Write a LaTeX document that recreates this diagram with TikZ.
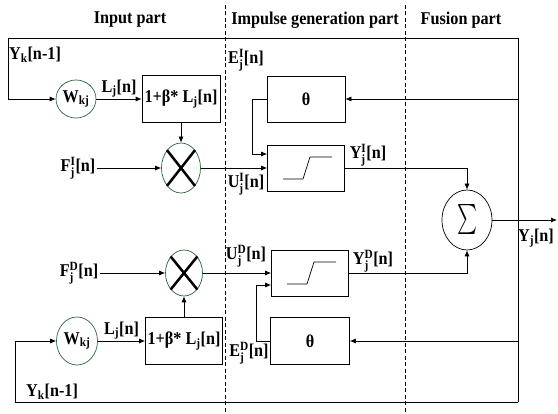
\documentclass[tikz,border=0pt]{standalone}
\usepackage{fontspec}
\setmainfont{Liberation Serif}[FakeStretch=0.9]
\usepackage{amsmath}
\usepackage{graphicx}
\usetikzlibrary{arrows.meta, positioning, shapes.geometric}

\definecolor{ringgreen}{RGB}{40,100,60}
\newcommand{\subtxt}[1]{\ensuremath{_{\text{#1}}}}
\newcommand{\subsuptxt}[2]{\ensuremath{_{\text{#1}}^{\text{#2}}}}
\newcommand{\stepramp}[1]{\draw ([shift={(-23,11)}]#1.center) -- ++(20,0) -- ++(7,-22) -- ++(22,0);}

\begin{document}
\begin{tikzpicture}[
    x=1pt, y=-1pt, >={Latex[length=6pt,width=5pt]}, line width=0.7pt,
    font=\fontsize{18}{20}\selectfont\bfseries,
    box/.style={draw, inner sep=0pt, minimum width=78pt, minimum height=47pt},
    ring/.style={draw=ringgreen, ellipse, inner sep=0pt},
    lbl/.style={inner sep=1pt},
    sep/.style={dash pattern=on 4pt off 2.5pt, line width=0.6pt}
  ]
  \useasboundingbox (0,0) rectangle (558,414);

  % parts
  \node (tin) at (130,20) {Input part};
  \node (tgen) at (315,20) {Impulse generation part};
  \node (tfus) at (461,20) {Fusion part};
  \draw[sep] (225,5) -- (225,414);
  \draw[sep] (405,5) -- (405,414);

  \coordinate (tl) at (8,38);
  \coordinate (tr) at (518,38);
  \coordinate (br) at (518,402);
  \coordinate (bl) at (15,402);
  \coordinate (out) at (557,220);

  % upper branch
  \node[ring, minimum width=40pt, minimum height=38pt] (w1) at (76,99) {W\subtxt{kj}};
  \node[box] (g1) at (181,99) {1+β* L\subtxt{j}[n]};
  \node[ring, minimum width=39pt, minimum height=50pt] (m1) at (181,168) {};
  \node[box, minimum width=77pt, minimum height=46pt] (s1) at (306,168) {};
  \node[box, minimum height=46pt] (t1) at (306,99) {θ};

  % fusion
  \node[draw, ellipse, inner sep=0pt, minimum width=50pt, minimum height=60pt] (sig)
    at (467,220) {\resizebox*{20pt}{30pt}{$\sum$}};

  % lower branch
  \node[box, minimum width=77pt, minimum height=46pt] (s2) at (310,273) {};
  \node[box, minimum width=79pt] (t2) at (310,341) {θ};
  \node[ring, minimum width=37pt, minimum height=46pt] (m2) at (184,273) {};
  \node[box, minimum width=77pt] (g2) at (184,341) {1+β* L\subtxt{j}[n]};
  \node[ring, minimum width=41pt, minimum height=48pt] (w2) at (77,341) {W\subtxt{kj}};

  % signal names
  \node[lbl] (fi) at (78,168) {F\subsuptxt{j}{I}[n]};
  \node[lbl] (fd) at (79,273) {F\subsuptxt{j}{D}[n]};
  \node[lbl] (ykt) at (35,55) {Y\subtxt{k}[n-1]};
  \node[lbl] (ykb) at (52,392) {Y\subtxt{k}[n-1]};
  \node[lbl] (ei) at (246,60) {E\subsuptxt{j}{I}[n]};
  \node[lbl] (ui) at (246,184) {U\subsuptxt{j}{I}[n]};
  \node[lbl] (yi) at (368,155) {Y\subsuptxt{j}{I}[n]};
  \node[lbl] (ud) at (246,256) {U\subsuptxt{j}{D}[n]};
  \node[lbl] (yd) at (373,261) {Y\subsuptxt{j}{D}[n]};
  \node[lbl] (ed) at (249,353) {E\subsuptxt{j}{D}[n]};
  \node[lbl] (yj) at (536,238) {Y\subtxt{j}[n]};

  % feedback bus
  \draw (tr) -- (br);
  \draw[->] (tr) -- (tl) |- (w1);
  \draw[->] (br) -- (bl) |- (w2);
  \draw[->] (tr |- t1) -- (t1);
  \draw[->] (br |- t2) -- (t2);

  \draw[->] (w1) -- node[lbl, above] {L\subtxt{j}[n]} (g1);
  \draw[->] (w2) -- node[lbl, above] {L\subtxt{j}[n]} (g2);
  \draw[->] (g1) -- (m1);
  \draw[->] (g2) -- (m2);
  \draw[->] (fi) -- (m1);
  \draw[->] (fd) -- (m2);
  \draw[->] (m1) -- (m1 -| s1.west);
  \draw[->] (m2) -- (m2 -| s2.west);
  \draw[->] (t1.west) -- ++(-14,0) |- ([yshift=14pt]s1.west);
  \draw[->] (t2.west) -- ++(-14,0) |- ([yshift=-12pt]s2.west);
  \draw[->] (s1.east) -| (sig.north);
  \draw[->] (s2.east) -| (sig.south);
  \draw[->] (sig) -- (out);

  \stepramp{s1}
  \stepramp{s2}
  \draw[line width=2.5pt] (m1.north west) -- (m1.south east)
    (m1.north east) -- (m1.south west);
  \draw[line width=2.5pt] (m2.north west) -- (m2.south east)
    (m2.north east) -- (m2.south west);
\end{tikzpicture}
\end{document}
